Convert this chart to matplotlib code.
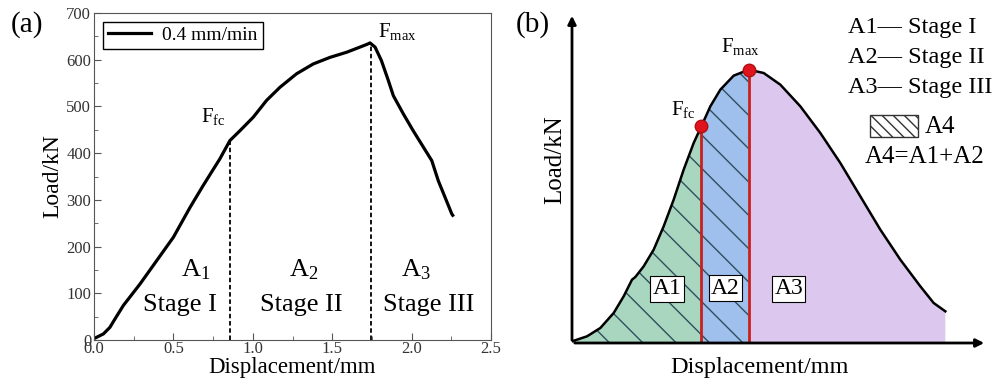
import matplotlib
matplotlib.use('Agg')

import matplotlib.pyplot as plt
from matplotlib.patches import Rectangle
from matplotlib.ticker import MultipleLocator
import numpy as np

plt.rcParams['font.family'] = ['Liberation Serif', 'DejaVu Serif']
plt.rcParams['mathtext.fontset'] = 'custom'
plt.rcParams['mathtext.rm'] = 'Liberation Serif'
plt.rcParams['mathtext.it'] = 'Liberation Serif:italic'
plt.rcParams['hatch.linewidth'] = 1.0

# (a) measured load-displacement curve, 0.4 mm/min
disp = [0.0, 0.059, 0.10, 0.132, 0.185, 0.29, 0.395, 0.50, 0.605, 0.688,
        0.793, 0.856, 0.919, 1.003, 1.087, 1.171, 1.276, 1.381, 1.486, 1.591,
        1.675, 1.727, 1.738, 1.77, 1.81, 1.853, 1.885, 1.948, 2.01, 2.074,
        2.127, 2.168, 2.21, 2.253, 2.259]
load = [3, 13, 27, 45, 74, 120, 170, 220, 284, 331,
        388, 427, 448, 477, 513, 541, 570, 591, 605, 616,
        627, 634, 636, 627, 598, 556, 523, 484, 448, 413,
        384, 341, 306, 270, 267]
ffc_a = (0.856, 427)
fmax_a = (1.745, 636)

# (b) schematic curve (arbitrary units)
sx = [0.0, 0.45, 0.85, 1.25, 1.55, 1.8, 1.9, 2.15, 2.45, 2.75, 3.05, 3.35,
      3.65, 3.88, 4.15, 4.45, 4.85, 5.3, 5.75, 6.25, 6.85, 7.45, 8.05,
      8.65, 9.25, 9.85, 10.45, 10.85, 11.2]
sy = [0.05, 0.2, 0.45, 0.9, 1.4, 1.9, 1.98, 2.3, 2.8, 3.5, 4.3, 5.2,
      6.0, 6.5, 7.1, 7.6, 8.02, 8.2, 8.1, 7.75, 7.1, 6.3, 5.4,
      4.4, 3.4, 2.5, 1.7, 1.2, 0.95]
x_fc, x_max = 3.88, 5.3

fig = plt.figure(figsize=(9.94, 3.87), dpi=100)

# ---------- panel (a) ----------
ax = fig.add_axes([94 / 994, 47 / 387, 397 / 994, 327 / 387])
ax.plot(disp, load, color='black', linewidth=2.3, label='0.4 mm/min')
ax.plot([ffc_a[0], ffc_a[0]], [0, ffc_a[1]], color='black', linestyle=(0, (2.5, 1.5)), linewidth=1.3)
ax.plot([fmax_a[0], fmax_a[0]], [0, fmax_a[1]], color='black', linestyle=(0, (2.5, 1.5)), linewidth=1.3)

ax.set_xlim(0, 2.5)
ax.set_ylim(0, 700)
ax.xaxis.set_major_locator(MultipleLocator(0.5))
ax.xaxis.set_minor_locator(MultipleLocator(0.25))
ax.yaxis.set_major_locator(MultipleLocator(100))
ax.yaxis.set_minor_locator(MultipleLocator(50))
ax.xaxis.set_major_formatter(plt.FormatStrFormatter('%.1f'))
ax.tick_params(which='both', direction='in', labelsize=12, labelcolor='#333333', color='#555555')
ax.tick_params(which='major', length=5)
ax.tick_params(which='minor', length=3)
ax.tick_params(axis='x', pad=1)
ax.tick_params(axis='y', pad=2)
for sp in ax.spines.values():
    sp.set_color('#555555')

ax.set_xlabel('Displacement/mm', fontsize=16.5, labelpad=0)
ax.set_ylabel('Load/kN', fontsize=17, labelpad=2)

ax.legend(loc='upper left', fontsize=14, frameon=True, fancybox=False,
          edgecolor='black', handlelength=2.2, handletextpad=0.6,
          borderpad=0.25, borderaxespad=0, framealpha=1,
          bbox_to_anchor=(0.023, 0.973))

ax.text(0.75, 478, r'F$_{\mathrm{fc}}$', fontsize=15, ha='center', va='center')
ax.text(1.91, 660, r'F$_{\mathrm{max}}$', fontsize=15, ha='center', va='center')
ax.text(0.64, 150, r'A$_{1}$', fontsize=19, ha='center', va='center')
ax.text(1.32, 150, r'A$_{2}$', fontsize=19, ha='center', va='center')
ax.text(2.03, 150, r'A$_{3}$', fontsize=19, ha='center', va='center')
ax.text(0.54, 75, 'Stage I', fontsize=19, ha='center', va='center')
ax.text(1.305, 75, 'Stage II', fontsize=19, ha='center', va='center')
ax.text(2.11, 75, 'Stage III', fontsize=19, ha='center', va='center')

fig.text(27 / 994, 1 - 25 / 387, '(a)', fontsize=21, ha='center', va='center')

# ---------- panel (b) ----------
bx = fig.add_axes([572 / 994, 44 / 387, 422 / 994, 343 / 387])
bx.set_xlim(0, 12.66)
bx.set_ylim(0, 10.29)
bx.axis('off')

xs = np.array(sx)
ys = np.array(sy)
m1 = xs <= x_fc
m2 = (xs >= x_fc) & (xs <= x_max)
m3 = xs >= x_max
bx.fill_between(xs[m1], 0, ys[m1], facecolor='#a9d6bf', edgecolor='#2f4f5f', hatch='\\', linewidth=0)
bx.fill_between(xs[m2], 0, ys[m2], facecolor='#9fbfec', edgecolor='#2f4f5f', hatch='\\', linewidth=0)
bx.fill_between(xs[m3], 0, ys[m3], facecolor='#dcc8ee', linewidth=0)
bx.plot(xs, ys, color='black', linewidth=1.8)

y_fc = sy[sx.index(x_fc)]
y_max = sy[sx.index(x_max)]
bx.plot([x_fc, x_fc], [0, y_fc], color='#c8201e', linewidth=2)
bx.plot([x_max, x_max], [0, y_max], color='#c8201e', linewidth=2)
bx.plot([x_fc, x_max], [y_fc, y_max], 'o', color='#e0141c', markersize=9, markeredgecolor='#b01010', zorder=5)

# axes arrows
bx.annotate('', xy=(12.45, 0), xytext=(0, 0),
            arrowprops=dict(arrowstyle='-|>', color='black', lw=2, mutation_scale=12),
            annotation_clip=False)
bx.annotate('', xy=(0, 9.9), xytext=(0, 0),
            arrowprops=dict(arrowstyle='-|>', color='black', lw=2, mutation_scale=12),
            annotation_clip=False)

box = dict(facecolor='white', edgecolor='black', linewidth=0.8, pad=1.5)
bx.text(2.85, 1.62, 'A1', fontsize=17, ha='center', va='center', bbox=box)
bx.text(4.6, 1.65, 'A2', fontsize=17, ha='center', va='center', bbox=box)
bx.text(6.5, 1.62, 'A3', fontsize=17, ha='center', va='center', bbox=box)
bx.text(3.35, 7.0, r'F$_{\mathrm{fc}}$', fontsize=15, ha='center', va='center')
bx.text(5.05, 8.9, r'F$_{\mathrm{max}}$', fontsize=15, ha='center', va='center')

fig.text(555 / 994, 1 - 160 / 387, 'Load/kN', fontsize=18, rotation=90, ha='center', va='center')
fig.text(760 / 994, 1 - 368 / 387, 'Displacement/mm', fontsize=17.5, ha='center', va='center')
fig.text(533 / 994, 1 - 25 / 387, '(b)', fontsize=21, ha='center', va='center')

legend_lines = ['A1\u2014 Stage I', 'A2\u2014 Stage II', 'A3\u2014 Stage III']
for i, s in enumerate(legend_lines):
    fig.text(848 / 994, 1 - (28 + 30 * i) / 387, s, fontsize=17.5, ha='left', va='center')
fig.add_artist(Rectangle((870 / 994, 1 - 137 / 387), 48 / 994, 22 / 387,
                         transform=fig.transFigure, facecolor='white',
                         edgecolor='#333333', hatch='\\\\\\', linewidth=1))
fig.text(925 / 994, 1 - 127 / 387, 'A4', fontsize=18, ha='left', va='center')
fig.text(925 / 994, 1 - 157 / 387, 'A4=A1+A2', fontsize=18, ha='center', va='center')

fig.savefig('out.png', dpi=100)
